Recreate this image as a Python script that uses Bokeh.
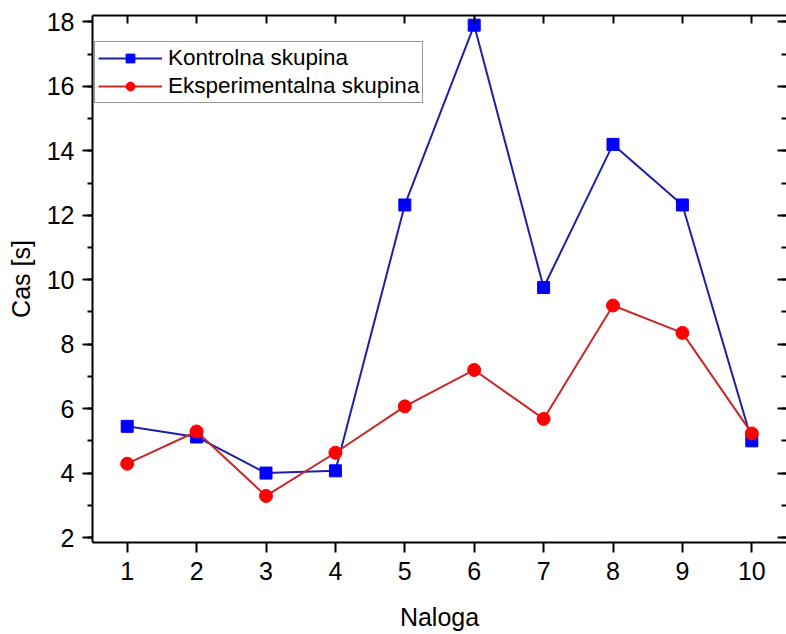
from bokeh.plotting import figure
from bokeh.models import LinearAxis, SingleIntervalTicker, Range1d, CustomJSTickFormatter
from bokeh.embed import file_html
from bokeh.resources import INLINE

naloga = [1, 2, 3, 4, 5, 6, 7, 8, 9, 10]
kontrolna = [5.45, 5.12, 4.0, 4.07, 12.32, 17.9, 9.76, 14.2, 12.32, 5.0]
eksperimentalna = [4.29, 5.29, 3.29, 4.63, 6.07, 7.2, 5.68, 9.2, 8.35, 5.23]

FONT = "Liberation Sans"

p = figure(width=786, height=634, output_backend="svg", toolbar_location=None,
           x_range=Range1d(0.5, 10.5), y_range=Range1d(1.845, 18.2),
           min_border_left=92, min_border_right=0, min_border_top=15, min_border_bottom=92)
p.xgrid.visible = False
p.ygrid.visible = False
p.outline_line_color = None
p.background_fill_color = "white"
p.border_fill_color = "white"

xt = SingleIntervalTicker(interval=1, num_minor_ticks=0)
yt = SingleIntervalTicker(interval=2, num_minor_ticks=2)

def style(ax):
    ax.axis_line_width = 2
    ax.axis_line_color = "black"
    ax.major_tick_line_width = 2
    ax.minor_tick_line_width = 2
    ax.major_tick_line_color = "black"
    ax.minor_tick_line_color = "black"
    ax.major_label_text_font = FONT
    ax.major_label_text_font_size = "25px"
    ax.major_label_text_color = "black"
    ax.axis_label_text_font = FONT
    ax.axis_label_text_font_size = "25px"
    ax.axis_label_text_font_style = "normal"
    ax.axis_label_text_color = "black"

xa = p.xaxis[0]
xa.ticker = xt
style(xa)
xa.axis_label = "Naloga"
xa.major_tick_out = 10
xa.major_tick_in = 0
xa.minor_tick_out = 0
xa.minor_tick_in = 0
xa.major_label_standoff = 9
xa.axis_label_standoff = 20

ya = p.yaxis[0]
ya.ticker = yt
style(ya)
ya.axis_label = "Cas [s]"
ya.major_tick_out = 10
ya.major_tick_in = 0
ya.minor_tick_out = 5
ya.minor_tick_in = 0
ya.major_label_standoff = 8
ya.axis_label_standoff = 9

blank = CustomJSTickFormatter(code="return '';")

top = LinearAxis(ticker=SingleIntervalTicker(interval=1, num_minor_ticks=0), formatter=blank)
style(top)
top.major_tick_in = 8
top.major_tick_out = 0
top.minor_tick_in = 0
top.minor_tick_out = 0
top.major_label_standoff = 0
top.axis_label_standoff = 0
p.add_layout(top, "above")

right = LinearAxis(ticker=SingleIntervalTicker(interval=2, num_minor_ticks=2), formatter=blank)
style(right)
right.axis_line_color = "#888888"
right.axis_line_width = 1
right.major_tick_in = 9
right.major_tick_out = 0
right.minor_tick_in = 5
right.minor_tick_out = 0
right.major_label_standoff = 0
right.axis_label_standoff = 0
right.fixed_location = 10.5
p.add_layout(right, "right")

p.line(naloga, kontrolna, line_color="#1f1fa8", line_width=2, legend_label="Kontrolna skupina")
p.scatter(naloga, kontrolna, marker="square", size=12, fill_color="#0000ff", line_color="#0000ff",
          legend_label="Kontrolna skupina")
p.line(naloga, eksperimentalna, line_color="#c82828", line_width=2, legend_label="Eksperimentalna skupina")
p.scatter(naloga, eksperimentalna, marker="circle", size=13, fill_color="#ff0000", line_color="#ff0000",
          legend_label="Eksperimentalna skupina")

lg = p.legend[0]
lg.location = (2, 438.7)
lg.margin = 0
lg.padding = 3
lg.spacing = 2
lg.glyph_width = 64
lg.glyph_height = 22
lg.label_height = 22
lg.label_standoff = 6
lg.label_text_font = FONT
lg.label_text_font_size = "22.5px"
lg.label_text_color = "black"
lg.border_line_color = "#333333"
lg.border_line_width = 1.2
lg.background_fill_alpha = 1.0

open("out.html", "w").write(file_html(p, INLINE))
